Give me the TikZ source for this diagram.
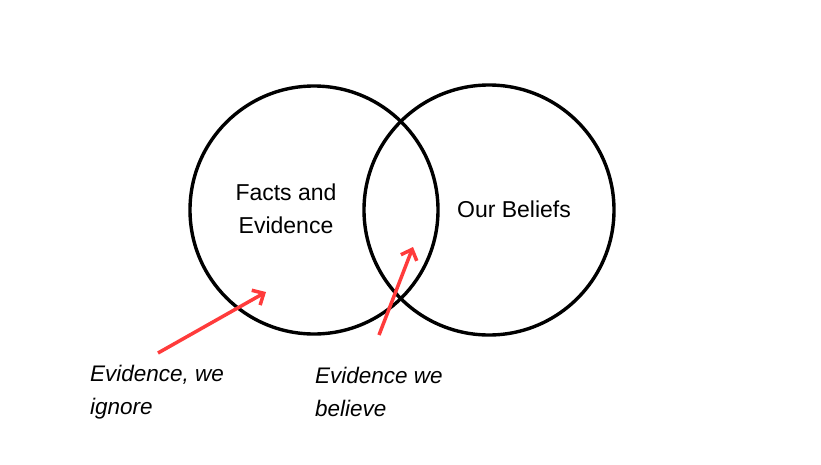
\documentclass[tikz,border=0pt]{standalone}
\usepackage{fontspec}
\setmainfont{Liberation Sans}
\usetikzlibrary{arrows.meta}
\definecolor{arrowred}{HTML}{FF3B3B}

\begin{document}
\begin{tikzpicture}[x=1pt,y=-1pt,every node/.style={font=\fontsize{23}{33}\selectfont},
  ring/.style={draw=black,line width=3.4pt},
  pointer/.style={draw=arrowred,line width=3.5pt,-{Straight Barb[length=9pt,width=17pt]}},
  note/.style={font=\fontsize{22.5}{33}\selectfont\itshape,align=left,anchor=west,inner sep=0pt}]
\useasboundingbox (0,0) rectangle (821,464);
% the two sets
\draw[ring] (314,210) circle[radius=124];
\draw[ring] (489,210) circle[radius=125];
\node[align=center] (facts) at (286,209) {Facts and\\Evidence};
\node (beliefs) at (514,209) {Our Beliefs};
% labels with arrows
\node[note] (ignore) at (90,392) {Evidence, we\\ignore};
\node[note] (believe) at (315,392) {Evidence we\\believe};
\coordinate (tail1) at (158,353);
\coordinate (tip1) at (266,292);
\coordinate (tail2) at (379,335);
\coordinate (tip2) at (413,247);
\draw[pointer] (tail1) -- (tip1);
\draw[pointer] (tail2) -- (tip2);
\end{tikzpicture}
\end{document}
